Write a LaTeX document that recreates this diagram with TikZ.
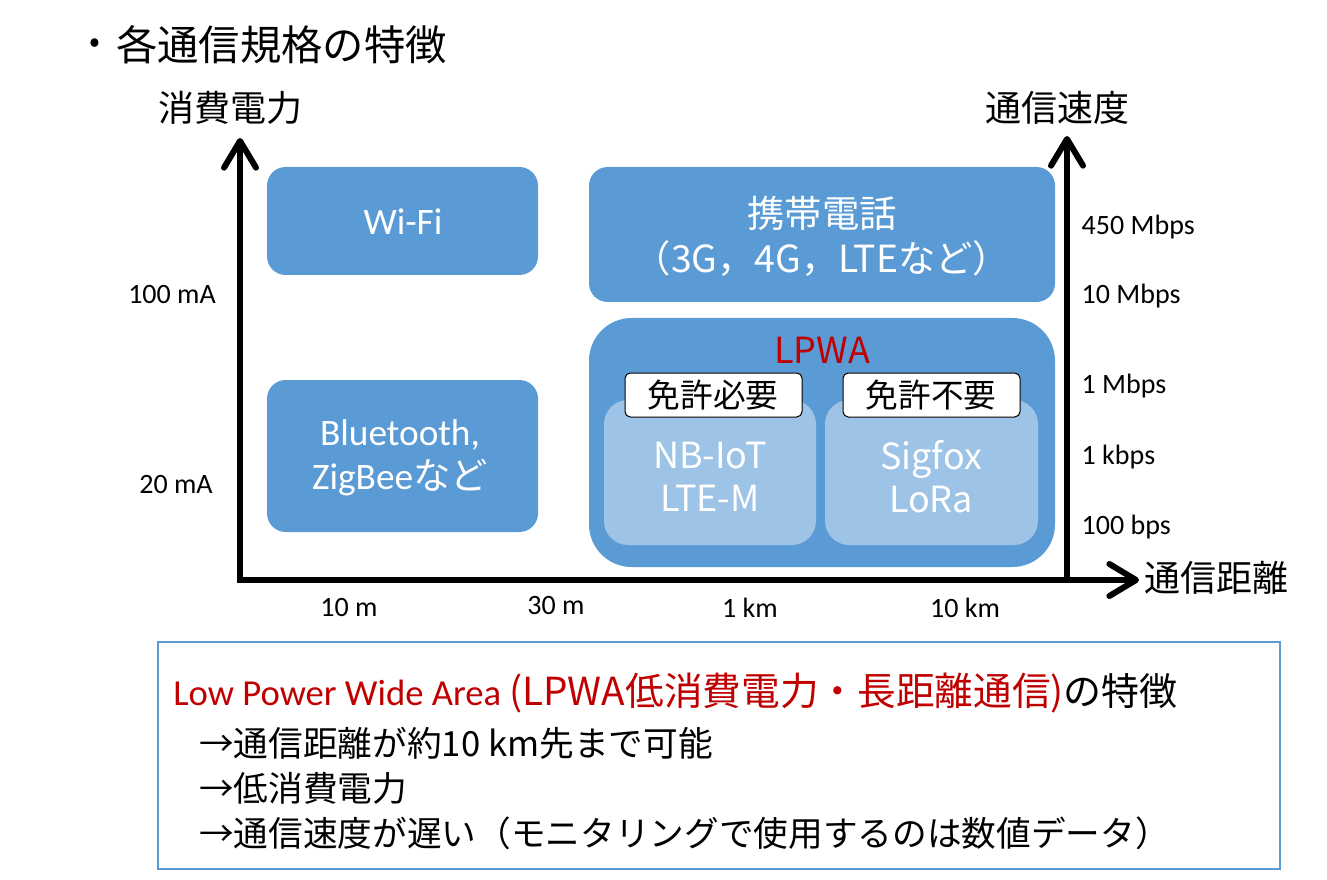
\documentclass[tikz,border=0pt]{standalone}
\usepackage{fontspec}
\setmainfont{Carlito}
\newfontfamily\jp{Noto Sans CJK JP}
\usetikzlibrary{arrows.meta}
\definecolor{boxblue}{HTML}{5B9BD5}
\definecolor{subblue}{HTML}{9DC3E6}
\definecolor{lpwared}{HTML}{C00000}

\begin{document}
\begin{tikzpicture}[x=0.75pt, y=-0.75pt,
        techbox/.style={fill=boxblue, rounded corners=14pt},
        subbox/.style={fill=subblue, rounded corners=18pt},
        tagbox/.style={fill=white, draw=black, line width=0.75pt, rounded corners=4pt},
        boxtext/.style={text=white, align=center, font=\fontsize{28}{33}\selectfont},
        ticklabel/.style={font=\fontsize{21}{25}\selectfont},
        axistitle/.style={font=\jp\fontsize{27}{32}\selectfont},
        featureline/.style={anchor=west, inner sep=0pt, font=\jp\fontsize{26}{30}\selectfont},
        axis/.style={line width=4.5pt, line join=miter},
        >={Straight Barb[length=20pt,width=24pt,round]}]
            \useasboundingbox (0,0) rectangle (1327,880);

            % タイトル
            \node (bullet) at (95,46) {\jp\fontsize{24}{28}\selectfont •};
            \node[anchor=west, inner sep=0pt] (title) at (116,45) {\jp\fontsize{31}{37}\selectfont 各通信規格の特徴};

            % 軸
            \coordinate (origin) at (240,580);
            \coordinate (powertip) at (240,138);
            \coordinate (disttip) at (1139,580);
            \coordinate (speedbase) at (1067,580);
            \coordinate (speedtip) at (1067,136);
            \draw[axis, <->] (powertip) |- (disttip);
            \draw[axis, ->] (speedbase) -- (speedtip);

            % 軸の名前
            \node[axistitle] (powertitle) at (230,108) {消費電力};
            \node[axistitle] (speedtitle) at (1057,108) {通信速度};
            \node[axistitle, anchor=west] (disttitle) at (1140,578) {通信距離};

            % 規格の箱
            \fill[techbox] (267,167) rectangle (538,275);
            \fill[techbox] (267,380) rectangle (538,532);
            \fill[techbox] (589,167) rectangle (1055,302);
            \fill[techbox, rounded corners=32pt] (589,318) rectangle (1055,567);
            \fill[subbox] (604,400) rectangle (816,545);
            \fill[subbox] (825,400) rectangle (1038,545);
            \draw[tagbox] (625,373) rectangle (802,417);
            \draw[tagbox] (843,373) rectangle (1020,417);

            % 箱の中の文字
            \node[boxtext] (wifi) at (403,222) {Wi-Fi};
            \node[boxtext] (bluetooth) at (400,458) {Bluetooth,\\ZigBee{\jp など}};
            \node[boxtext, font=\jp\fontsize{28}{34}\selectfont] (mobile) at (822,236) {携帯電話\\（3G，4G，LTEなど）};
            \node[text=lpwared, font=\jp\fontsize{27}{30}\selectfont] (lpwa) at (822,350) {LPWA};
            \node[font=\jp\fontsize{24.5}{28}\selectfont] (licensed) at (713,395) {免許必要};
            \node[font=\jp\fontsize{24.5}{28}\selectfont] (unlicensed) at (931,395) {免許不要};
            \node[boxtext, font=\jp\fontsize{27}{32}\selectfont] (nbiot) at (710,477) {NB-IoT\\LTE-M};
            \node[boxtext, font=\jp\fontsize{27}{32}\selectfont] (sigfox) at (931,477) {Sigfox\\LoRa};

            % 目盛り
            \node[ticklabel] (ma100) at (172,295) {100 mA};
            \node[ticklabel] (ma20) at (176,485) {20 mA};
            \node[ticklabel, anchor=west] (mbps450) at (1077,227) {450 Mbps};
            \node[ticklabel, anchor=west] (mbps10) at (1077,296) {10 Mbps};
            \node[ticklabel, anchor=west] (mbps1) at (1077,386) {1 Mbps};
            \node[ticklabel, anchor=west] (kbps1) at (1077,457) {1 kbps};
            \node[ticklabel, anchor=west] (bps100) at (1077,527) {100 bps};
            \node[ticklabel] (m10) at (349,608) {10 m};
            \node[ticklabel] (m30) at (556,606) {30 m};
            \node[ticklabel] (km1) at (750,608) {1 km};
            \node[ticklabel] (km10) at (965,608) {10 km};

            % LPWAの特徴
            \draw[boxblue, line width=1.2pt] (158,642) rectangle (1280,869);
            \node[anchor=west, inner sep=0pt] (feature) at (173,693) {\fontsize{27.5}{32}\selectfont\color{lpwared}Low Power Wide Area {\jp\fontsize{29}{32}\selectfont (LPWA低消費電力・長距離通信)}\color{black}\jp\fontsize{28.5}{32}\selectfont の特徴};
            \node[featureline] (range) at (199,743) {→通信距離が約10 km先まで可能};
            \node[featureline] (lowpower) at (199,788) {→低消費電力};
            \node[featureline] (rate) at (199,833) {→通信速度が遅い（モニタリングで使用するのは数値データ）};
\end{tikzpicture}
\end{document}
